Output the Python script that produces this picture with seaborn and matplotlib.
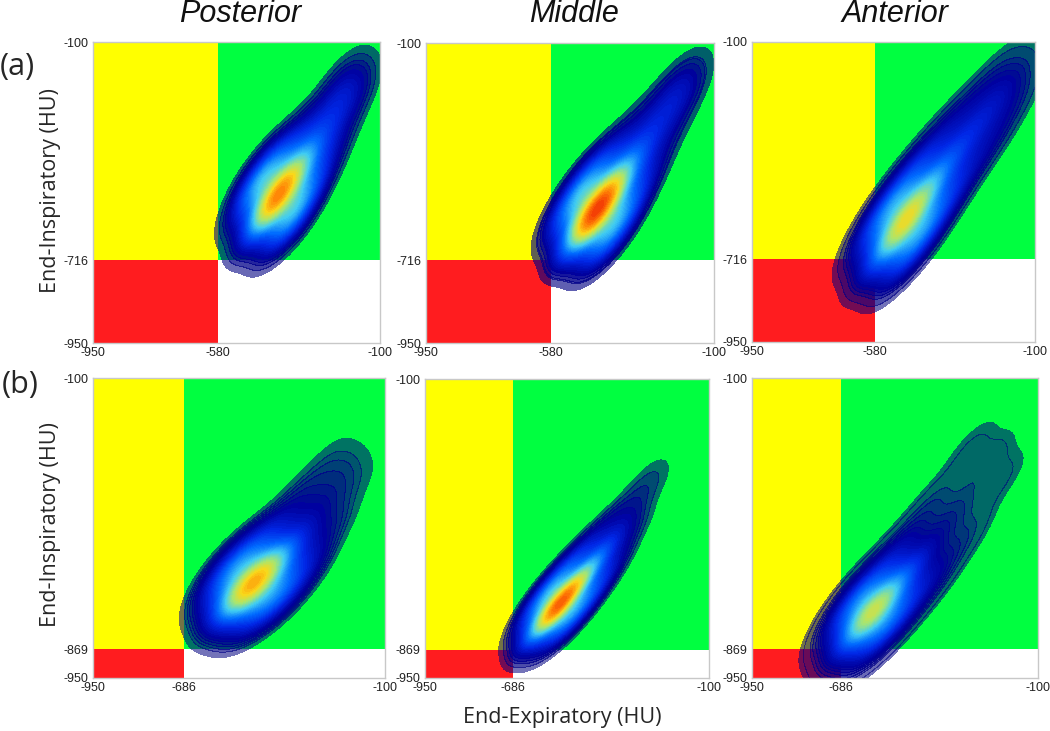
import numpy as np
import pandas as pd
import matplotlib
matplotlib.use("Agg")
import matplotlib.pyplot as plt
from matplotlib.colors import LinearSegmentedColormap, ListedColormap
import seaborn as sns

# density, as weighted anchor points in HU
a1_x = [-502,-461,-421, -474,-426,-378, -446,-398,-350, -400,-356,-312, -349,-312,-274, -288,-258,-227, -221,-197,-174]
a1_y = [-568,-608,-649, -515,-563,-610, -480,-528,-576, -432,-476,-520, -381,-418,-455, -310,-340,-371, -215,-239,-263]
a1_w = [4,10,4, 12,25,12, 16,36,16, 10,22,10, 6,11,6, 4,7,4, 4,6,4]

a2_x = [-544,-501,-458, -516,-466,-416, -488,-438,-388, -439,-392,-345, -375,-335,-295, -296,-264,-232, -220,-198,-176]
a2_y = [-590,-630,-670, -552,-602,-652, -513,-563,-613, -455,-502,-549, -388,-428,-468, -296,-328,-360, -211,-233,-255]
a2_w = [5,12,5, 11,26,11, 15,42,15, 8,20,8, 5,10,5, 3,6,3, 3,5,3]

a3_x = [-575,-535,-495, -551,-508,-465, -528,-485,-442, -474,-431,-388, -402,-359,-316, -313,-273,-233, -227,-196,-165]
a3_y = [-625,-665,-705, -589,-632,-675, -557,-600,-643, -484,-527,-570, -394,-437,-480, -299,-339,-379, -210,-241,-272]
a3_w = [5,10,5, 10,20,10, 13,27,13, 9,18,9, 6,11,6, 4,7,4, 3,5,3]

b1_x = [-599,-563,-527, -569,-522,-475, -529,-479,-429, -480,-430,-380, -417,-370,-323, -340,-297,-254, -258,-222,-186]
b1_y = [-713,-749,-785, -667,-714,-761, -626,-676,-726, -585,-635,-685, -525,-572,-619, -428,-471,-514, -323,-359,-395]
b1_w = [4,8,4, 9,22,9, 13,36,13, 10,22,10, 6,9,6, 3,4,3, 1.5,2,1.5]

b2_x = [-639,-616,-593, -610,-578,-546, -575,-540,-505, -523,-488,-453, -462,-430,-398, -385,-361,-338, -301,-284,-267]
b2_y = [-784,-807,-831, -737,-769,-801, -698,-733,-768, -641,-676,-711, -575,-607,-639, -495,-518,-541, -383,-400,-417]
b2_w = [4,8,4, 9,24,9, 14,40,14, 10,24,10, 6,12,6, 3,4,3, 1,1.5,1]

b3_x = [-683,-649,-615, -652,-615,-578, -626,-586,-546, -570,-530,-489, -504,-461,-417, -418,-371,-325, -303,-260,-216]
b3_y = [-785,-819,-853, -748,-785,-822, -717,-757,-797, -660,-700,-740, -581,-625,-668, -464,-510,-557, -306,-350,-393]
b3_w = [4,8,4, 8,18,8, 12,28,12, 8,17,8, 5,7,5, 2,3,2, 1,1.5,1]

columns = ["Posterior", "Middle", "Anterior"]
row_names = ["(a)", "(b)"]
x_splits = [-580, -686]
y_splits = [-716, -869]
peak_colour = [0.86, 1.0, 0.68, 0.78, 0.93, 0.62]
floors = [0.014, 0.02, 0.012, 0.016, 0.014, 0.007]

# axes boxes in pixels: left, right, top, bottom
boxes = [(93, 380, 42, 343), (426, 714, 43, 343), (752, 1035, 42, 342),
         (93, 385, 378, 678), (425, 709, 379, 678), (752, 1038, 378, 678)]
panels = [(a1_x, a1_y, a1_w), (a2_x, a2_y, a2_w), (a3_x, a3_y, a3_w),
          (b1_x, b1_y, b1_w), (b2_x, b2_y, b2_w), (b3_x, b3_y, b3_w)]

W, H = 1050, 731
sns.set_style("white")
plt.rcParams["font.family"] = ["Liberation Sans", "DejaVu Sans"]

jet = LinearSegmentedColormap.from_list("dens", [
    (0.00, (0.0, 0.0, 0.50, 0.55)),
    (0.03, (0.0, 0.0, 0.55, 0.85)),
    (0.06, (0.0, 0.0, 0.62, 1.0)),
    (0.16, (0.0, 0.15, 0.90, 1.0)),
    (0.28, (0.0, 0.42, 1.0, 1.0)),
    (0.42, (0.25, 0.80, 0.95, 1.0)),
    (0.56, (0.65, 0.90, 0.45, 1.0)),
    (0.70, (0.98, 0.85, 0.10, 1.0)),
    (0.86, (1.0, 0.50, 0.02, 1.0)),
    (1.00, (0.95, 0.22, 0.02, 1.0)),
])

fig = plt.figure(figsize=(W / 100, H / 100), dpi=100, facecolor="white")

for i, (box, pts) in enumerate(zip(boxes, panels)):
    l, r, t, b = box
    ax = fig.add_axes([l / W, 1 - b / H, (r - l) / W, (b - t) / H])
    xs = x_splits[i // 3]
    ys = y_splits[i // 3]

    # the four zones behind the density
    ax.axvspan(-950, xs, color="#FFFF00", lw=0)
    ax.axvspan(xs, -100, color="#00FF40", lw=0)
    ax.axhspan(-950, ys, color="white", lw=0)
    ax.fill_between([-950, xs], -950, ys, color="#FF1C1F", lw=0)

    df = pd.DataFrame({"x": pts[0], "y": pts[1], "w": pts[2]})
    cm = ListedColormap(jet(np.linspace(0, peak_colour[i], 256)))
    levels = [floors[i], floors[i] * 2, 0.045] + list(np.linspace(0.06, 1, 48))
    sns.kdeplot(data=df, x="x", y="y", weights="w", fill=True, levels=levels,
                cmap=cm, bw_method=0.62, gridsize=250, ax=ax)

    ax.set_xlim(-950, -100)
    ax.set_ylim(-950, -100)
    ax.set_xticks([-950, xs, -100], [str(v) for v in [-950, xs, -100]])
    ax.set_yticks([-950, ys, -100], [str(v) for v in [-950, ys, -100]])
    ax.tick_params(length=0, labelsize=9, pad=3, colors="#222222")
    ax.set_xlabel("")
    ax.set_ylabel("")
    for name, sp in ax.spines.items():
        sp.set_color("#C8C8C8")
        sp.set_linewidth(1.0)

titles_x = [240, 574, 895]
for name, tx in zip(columns, titles_x):
    fig.text(tx / W, 1 - 14 / H, name, ha="center", va="center", fontsize=22, style="italic", color="#111111")

label_font = ["Open Sans", "DejaVu Sans"]
fig.text(17 / W, 1 - 67 / H, row_names[0], ha="center", va="center", fontsize=22, family=label_font)
fig.text(20 / W, 1 - 385 / H, row_names[1], ha="center", va="center", fontsize=22, family=label_font)
fig.text(51 / W, 1 - 191 / H, "End-Inspiratory (HU)", rotation=90, ha="center", va="center",
         fontsize=15.5, family=label_font)
fig.text(51 / W, 1 - 525 / H, "End-Inspiratory (HU)", rotation=90, ha="center", va="center",
         fontsize=15.5, family=label_font)
fig.text(562 / W, 1 - 718 / H, "End-Expiratory (HU)", ha="center", va="center",
         fontsize=15.5, family=label_font)

fig.savefig("out.png", dpi=100)
